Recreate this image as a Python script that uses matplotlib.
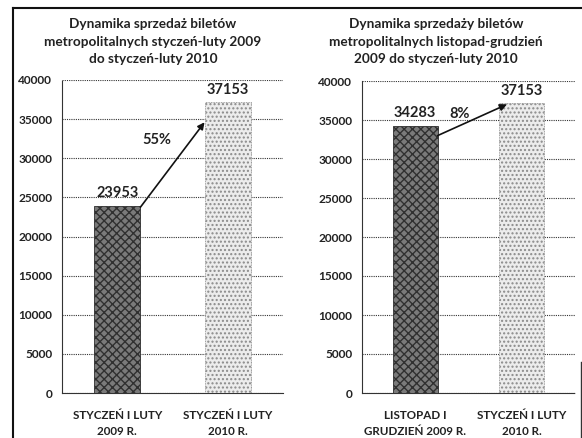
import matplotlib
matplotlib.use("Agg")
import matplotlib.pyplot as plt
from matplotlib.lines import Line2D

# ---- data ----
left_title = "Dynamika sprzedaż biletów\nmetropolitalnych styczeń-luty 2009\ndo styczeń-luty 2010"
left_categories = ["STYCZEŃ I LUTY\n2009 R.", "STYCZEŃ I LUTY\n2010 R."]
left_values = [23953, 37153]
left_change = "55%"

right_title = "Dynamika sprzedaży biletów\nmetropolitalnych listopad-grudzień\n2009 do styczeń-luty 2010"
right_categories = ["LISTOPAD I\nGRUDZIEŃ 2009 R.", "STYCZEŃ I LUTY\n2010 R."]
right_values = [34283, 37153]
right_change = "8%"

yticks = [0, 5000, 10000, 15000, 20000, 25000, 30000, 35000, 40000]

plt.rcParams['font.family'] = ['Lato', 'DejaVu Sans']

W, H = 582, 438
fig = plt.figure(figsize=(W / 100, H / 100), dpi=100)
fig.patch.set_facecolor('white')

def px_axes(x0, x1, y0, y1):
    return fig.add_axes([x0 / W, 1 - y1 / H, (x1 - x0) / W, (y1 - y0) / H])

def draw(ax, title, cats, vals, change, arrow_from, arrow_to, change_pos, title_x):
    x = [0, 1]
    ax.set_xlim(-0.5, 1.5)
    ax.set_ylim(0, 40000)
    ax.set_yticks(yticks)
    ax.set_yticklabels([str(t) for t in yticks], fontsize=8.6, fontweight='bold', color='#222')
    ax.yaxis.grid(True, linestyle=(0, (1, 1)), color='#333', linewidth=0.8)
    ax.set_axisbelow(True)
    for s in ['top', 'right']:
        ax.spines[s].set_visible(False)
    for s in ['left', 'bottom']:
        ax.spines[s].set_linestyle((0, (1, 1)))
        ax.spines[s].set_linewidth(0.8)
        ax.spines[s].set_color('#333')
    ax.tick_params(axis='both', length=0, pad=7)
    ax.set_xticks(x)
    ax.set_xticklabels(cats, fontsize=8.4, fontweight='bold', color='#222', linespacing=1.6)
    ax.tick_params(axis='x', pad=12)
    ax.bar(x[0], vals[0], width=0.42, color='#7a7a7a', edgecolor='#303030',
           hatch='xxxx', linewidth=0.6, zorder=3)
    ax.bar(x[1], vals[1], width=0.42, color='#ececec', edgecolor='#8a8a8a',
           hatch='....', linewidth=0.6, linestyle=(0, (1, 1)), zorder=3)
    for xi, v in zip(x, vals):
        ax.text(xi, v + 700, f"{v}", ha='center', va='bottom', fontsize=10.5,
                fontweight='bold', color='#222', zorder=5)
    ax.annotate("", xy=arrow_to, xytext=arrow_from,
                arrowprops=dict(arrowstyle='-|>', color='#111', lw=1.2,
                                mutation_scale=10, shrinkA=0, shrinkB=0), zorder=6)
    ax.text(change_pos[0], change_pos[1], change, ha='center', va='center',
            fontsize=10.5, fontweight='bold', color='#222', zorder=5)
    fig.text(title_x / W, 1 - 18 / H, title, ha='center', va='top', fontsize=9.8,
             fontweight='bold', color='#222', linespacing=1.55)

axL = px_axes(62, 283, 80, 393)
draw(axL, left_title, left_categories, left_values, left_change,
     arrow_from=(0.21, left_values[0] - 200), arrow_to=(0.79, 34600),
     change_pos=(0.36, 32300), title_x=153)

axR = px_axes(362, 575, 81, 393)
draw(axR, right_title, right_categories, right_values, right_change,
     arrow_from=(0.21, 33000), arrow_to=(0.86, 37000),
     change_pos=(0.42, 35800), title_x=436)

# scanned page frame
fig.add_artist(Line2D([13 / W, 1.0], [1 - 8 / H, 1 - 8 / H], color='#111', lw=1.5,
                      transform=fig.transFigure))
fig.add_artist(Line2D([13 / W, 13 / W], [0, 1 - 8 / H], color='#111', lw=1.5,
                      transform=fig.transFigure))
fig.add_artist(Line2D([580.5 / W, 580.5 / W], [0, 1 - 362 / H], color='#333', lw=1.0,
                      transform=fig.transFigure))

fig.savefig("out.png", dpi=100, facecolor='white')
